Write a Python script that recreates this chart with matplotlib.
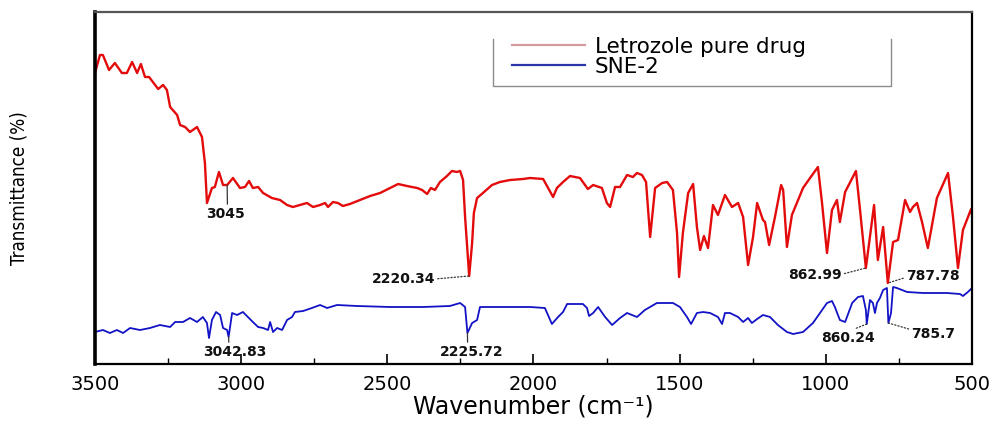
import matplotlib
matplotlib.use("Agg")
import matplotlib.pyplot as plt
from matplotlib.lines import Line2D
from matplotlib.ticker import MultipleLocator

# ---------------- data ----------------
red_wn = [3500, 3483, 3473, 3452, 3432, 3408, 3391, 3373, 3356, 3343, 3329, 3315, 3302, 3284, 3267, 3254,
          3243, 3219, 3209, 3192, 3175, 3151, 3134, 3124, 3117, 3100, 3090, 3076, 3062, 3048, 3028, 3004,
          2987, 2973, 2960, 2942, 2925, 2895, 2867, 2843, 2823, 2799, 2775, 2754, 2730, 2713, 2703, 2686,
          2669, 2652, 2628, 2594, 2559, 2525, 2491, 2463, 2433, 2398, 2381, 2364, 2351, 2337, 2320, 2296,
          2279, 2262, 2251, 2241, 2234, 2220, 2210, 2204, 2193, 2173, 2142, 2115, 2080, 2036, 2012, 1967,
          1950, 1933, 1920, 1899, 1875, 1841, 1814, 1796, 1766, 1749, 1738, 1721, 1704, 1680, 1660, 1646,
          1629, 1615, 1601, 1584, 1560, 1543, 1523, 1509, 1502, 1489, 1471, 1454, 1441, 1430, 1417, 1403,
          1386, 1369, 1345, 1321, 1300, 1283, 1266, 1249, 1235, 1215, 1208, 1194, 1174, 1153, 1146, 1133,
          1116, 1078, 1054, 1027, 1013, 996, 979, 962, 952, 934, 897, 883, 863, 835, 822, 804,
          788, 770, 753, 729, 712, 702, 688, 671, 651, 620, 582, 565, 548, 531, 503, 500]
red_T = [291, 309, 309, 294, 301, 291, 291, 302, 291, 300, 287, 287, 282, 275, 279, 274,
         257, 249, 239, 237, 232, 237, 227, 201, 161, 176, 177, 192, 179, 179, 186, 176,
         177, 183, 176, 177, 171, 166, 164, 159, 157, 159, 161, 157, 159, 161, 157, 162,
         161, 158, 160, 164, 168, 171, 176, 180, 178, 176, 174, 170, 176, 174, 182, 188,
         193, 192, 193, 184, 147, 88, 121, 151, 166, 171, 179, 182, 184, 185, 186, 185,
         176, 167, 176, 182, 188, 186, 175, 179, 176, 161, 157, 177, 177, 189, 187, 191,
         189, 182, 127, 176, 181, 182, 174, 131, 87, 131, 171, 180, 137, 114, 128, 116,
         159, 149, 169, 157, 161, 147, 99, 127, 161, 144, 142, 119, 147, 179, 174, 117,
         149, 176, 186, 197, 161, 111, 154, 164, 142, 172, 193, 154, 96, 159, 104, 137,
         81, 122, 124, 164, 152, 157, 161, 142, 116, 166, 191, 147, 96, 134, 155, 150]

blue_wn = [3500, 3473, 3449, 3425, 3404, 3380, 3346, 3312, 3278, 3243, 3226, 3199, 3175, 3151, 3131, 3117,
           3110, 3100, 3086, 3072, 3062, 3048, 3043, 3031, 3014, 2994, 2977, 2960, 2942, 2925, 2908, 2901,
           2891, 2877, 2860, 2843, 2826, 2816, 2788, 2758, 2730, 2706, 2672, 2604, 2491, 2378, 2286, 2251,
           2234, 2226, 2210, 2193, 2183, 2091, 2012, 1961, 1937, 1916, 1899, 1885, 1831, 1817, 1810, 1796,
           1779, 1755, 1731, 1704, 1680, 1646, 1619, 1578, 1523, 1499, 1475, 1461, 1441, 1420, 1396, 1369,
           1355, 1345, 1328, 1300, 1283, 1266, 1253, 1235, 1215, 1191, 1164, 1133, 1112, 1078, 1044, 1020,
           996, 979, 969, 952, 934, 910, 890, 873, 863, 860, 849, 839, 832, 825, 815, 804,
           791, 786, 777, 770, 757, 722, 668, 586, 541, 531, 514, 500]
blue_T = [32, 34, 31, 34, 31, 36, 34, 36, 39, 37, 42, 42, 46, 42, 47, 41,
          26, 44, 52, 49, 36, 34, 27, 51, 49, 52, 47, 42, 37, 36, 34, 42,
          32, 36, 34, 44, 47, 52, 53, 56, 59, 56, 59, 58, 57, 57, 58, 61,
          57, 31, 41, 44, 57, 57, 57, 56, 40, 47, 52, 60, 60, 56, 48, 51,
          57, 47, 39, 46, 51, 47, 54, 61, 61, 57, 47, 40, 51, 52, 51, 47,
          40, 51, 51, 47, 42, 46, 41, 45, 49, 47, 39, 32, 30, 32, 41, 51,
          61, 63, 57, 44, 42, 61, 67, 68, 54, 40, 64, 61, 51, 61, 66, 74,
          76, 41, 51, 77, 76, 72, 71, 71, 70, 68, 72, 76]

series_labels = ["Letrozole pure drug", "SNE-2"]
xticks = [3500, 3000, 2500, 2000, 1500, 1000, 500]

# peak annotations: label, peak wavenumber, peak value
ann_labels = ["3045", "2220.34", "862.99", "787.78", "3042.83", "2225.72", "860.24", "785.7"]
ann_wn = [3048, 2220, 863, 788, 3043, 2226, 860, 786]
ann_T = [179, 88, 96, 81, 27, 31, 40, 41]

# ---------------- figure ----------------
W, H = 994, 421
fig = plt.figure(figsize=(W / 100, H / 100), dpi=100)
ax_l, ax_r, ax_t, ax_b = 95, 972, 12, 364
ax = fig.add_axes([ax_l / W, 1 - ax_b / H, (ax_r - ax_l) / W, (ax_b - ax_t) / H])

red_c = "#e30b0b"
blue_c = "#1212c6"
ax.plot(red_wn, red_T, color=red_c, lw=1.7, solid_joinstyle="round")
ax.plot(blue_wn, blue_T, color=blue_c, lw=1.3, solid_joinstyle="round")

ax.set_xlim(3500, 500)
ax.set_ylim(0, 352)
ax.set_xticks(xticks)
ax.set_xticklabels([str(t) for t in xticks])
ax.xaxis.set_minor_locator(MultipleLocator(250))
ax.tick_params(axis="x", which="major", direction="in", length=7, width=1.2, labelsize=14, pad=8,
               top=False)
ax.tick_params(axis="x", which="minor", direction="in", length=4, width=1.0, top=False)
ax.set_yticks([])

ax.spines["left"].set_linewidth(2.6)
ax.spines["left"].set_color("black")
for s in ["bottom", "right"]:
    ax.spines[s].set_linewidth(1.6)
    ax.spines[s].set_color("black")
ax.spines["top"].set_linewidth(1.6)
ax.spines["top"].set_color("#555555")

ax.set_xlabel("Wavenumber (cm\u207b\u00b9)", fontsize=17, labelpad=0)
ax.set_ylabel("Transmittance (%)", fontsize=13.5, fontstretch="condensed", labelpad=48)

# annotations (offsets in pixels)
ann_style = [
    # dx, dy, relpos, linestyle
    (-2, -29, (0.56, 1.0), "-"),
    (-66, -3, (1.0, 0.5), ":"),
    (-51, -7, (1.0, 0.55), ":"),
    (45, 7, (0.0, 0.4), ":"),
    (6, -15, (0.41, 1.0), "-"),
    (4, -19, (0.44, 1.0), "-"),
    (-19, -14, (0.53, 1.0), ":"),
    (45, -11, (0.0, 0.8), ":"),
]
for lab, wn, t, (dx, dy, rp, ls) in zip(ann_labels, ann_wn, ann_T, ann_style):
    ax.annotate(lab, xy=(wn, t), xytext=(dx, dy), textcoords="offset pixels",
                ha="center", va="center", fontsize=10, fontweight="bold", color="#111111",
                arrowprops=dict(arrowstyle="-", linestyle=ls, lw=0.9, color="#333333",
                                relpos=rp, shrinkA=0, shrinkB=0))

# legend
handles = [Line2D([], [], color="#d49c9c", lw=1.6), Line2D([], [], color="#2a35a8", lw=1.6)]
leg = ax.legend(handles, series_labels, loc="upper left",
                bbox_to_anchor=((512 - ax_l) / (ax_r - ax_l), (ax_b - 37) / (ax_b - ax_t)),
                frameon=False, fontsize=15.5, handlelength=3.4, handletextpad=0.45,
                labelspacing=0.0, borderpad=0, borderaxespad=0)

# legend box (three sides, as in the reference)
bx0, bx1 = (493 - ax_l) / (ax_r - ax_l), (891 - ax_l) / (ax_r - ax_l)
by0, by1 = (ax_b - 86) / (ax_b - ax_t), (ax_b - 39) / (ax_b - ax_t)
ax.plot([bx0, bx0, bx1, bx1], [by1, by0, by0, by1], transform=ax.transAxes,
        color="#8c8c8c", lw=1.0, clip_on=False)

fig.savefig("out.png", dpi=100)
